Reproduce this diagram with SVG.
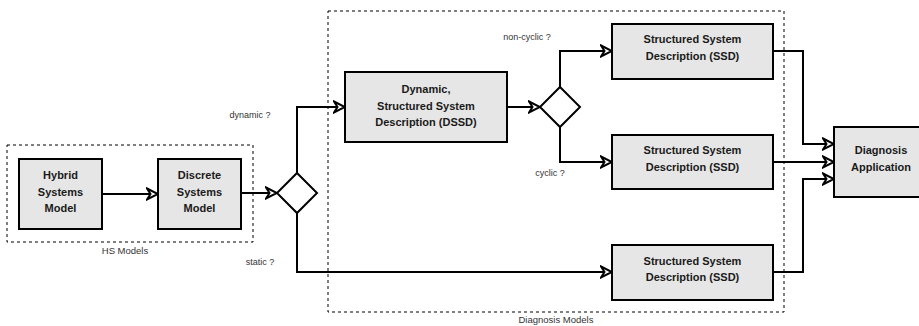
<svg xmlns="http://www.w3.org/2000/svg" width="919" height="326" viewBox="0 0 919 326">
<style>
.node{fill:#e6e6e6;stroke:#000;stroke-width:2}
.dia{fill:#fff;stroke:#000;stroke-width:2}
.nt{font-family:"Liberation Sans",Arial,sans-serif;font-size:11px;font-weight:bold;fill:#1a1a1a;text-anchor:middle}
.lbl{font-family:"Liberation Sans",Arial,sans-serif;font-size:9px;fill:#333;text-anchor:middle}
.cl{font-family:"Liberation Sans",Arial,sans-serif;font-size:9.5px;fill:#333;text-anchor:middle}
.grp{fill:none;stroke:#000;stroke-width:1;stroke-dasharray:3 3}
.edge{fill:none;stroke:#000;stroke-width:2;marker-end:url(#arr)}
</style>
<defs>
<marker id="arr" viewBox="0 0 14 14" refX="12" refY="7" markerWidth="14" markerHeight="14" markerUnits="userSpaceOnUse" orient="auto">
<path d="M1,1.5 L12,7 L1,12.5 L4.5,7 Z" fill="#fff" stroke="#000" stroke-width="2" stroke-linejoin="miter"/>
</marker>
</defs>
<rect width="919" height="326" fill="#fff"/>
<g id="hs-models">
<rect class="grp" x="7" y="145" width="246" height="97"/>
<text class="cl" x="125" y="254">HS Models</text>
</g>
<g id="diagnosis-models">
<rect class="grp" x="328" y="11" width="456" height="301"/>
<text class="cl" x="556" y="323">Diagnosis Models</text>
</g>
<g id="connectors">
<path class="edge" d="M102,194 L158,194"/>
<path class="edge" d="M241,193 L277,193"/>
<path class="edge" d="M297,173 L297,107 L345,107"/>
<path class="edge" d="M297,213 L297,272 L612,272"/>
<path class="edge" d="M507,107 L540,107"/>
<path class="edge" d="M560,87 L560,51 L612,51"/>
<path class="edge" d="M560,127 L560,162 L612,162"/>
<path class="edge" d="M773,51 L803,51 L803,144 L834,144"/>
<path class="edge" d="M773,162 L834,162"/>
<path class="edge" d="M773,272 L803,272 L803,179 L834,179"/>
<text class="lbl" x="250" y="118">dynamic ?</text>
<text class="lbl" x="260" y="265">static ?</text>
<text class="lbl" x="527" y="40">non-cyclic ?</text>
<text class="lbl" x="550" y="176">cyclic ?</text>
</g>
<g id="hybrid">
<rect class="node" x="19" y="159" width="83" height="70"/>
<text class="nt" x="60.5" y="179">Hybrid</text>
<text class="nt" x="60.5" y="196">Systems</text>
<text class="nt" x="60.5" y="212">Model</text>
</g>
<g id="discrete">
<rect class="node" x="158" y="159" width="83" height="70"/>
<text class="nt" x="199.5" y="179">Discrete</text>
<text class="nt" x="199.5" y="196">Systems</text>
<text class="nt" x="199.5" y="212">Model</text>
</g>
<g id="decision1">
<path class="dia" d="M297,173 L317,193 L297,213 L277,193 Z"/>
</g>
<g id="dssd">
<rect class="node" x="345" y="72" width="162" height="70"/>
<text class="nt" x="426" y="93">Dynamic,</text>
<text class="nt" x="426" y="110">Structured System</text>
<text class="nt" x="426" y="126">Description (DSSD)</text>
</g>
<g id="decision2">
<path class="dia" d="M560,87 L580,107 L560,127 L540,107 Z"/>
</g>
<g id="ssd1">
<rect class="node" x="612" y="24" width="161" height="55"/>
<text class="nt" x="692.5" y="43">Structured System</text>
<text class="nt" x="692.5" y="60">Description (SSD)</text>
</g>
<g id="ssd2">
<rect class="node" x="612" y="135" width="161" height="54"/>
<text class="nt" x="692.5" y="154">Structured System</text>
<text class="nt" x="692.5" y="171">Description (SSD)</text>
</g>
<g id="ssd3">
<rect class="node" x="612" y="245" width="161" height="55"/>
<text class="nt" x="692.5" y="265">Structured System</text>
<text class="nt" x="692.5" y="281">Description (SSD)</text>
</g>
<g id="diagnosis-application">
<rect class="node" x="834" y="127" width="94" height="70"/>
<text class="nt" x="881" y="154">Diagnosis</text>
<text class="nt" x="881" y="171">Application</text>
</g>
</svg>
